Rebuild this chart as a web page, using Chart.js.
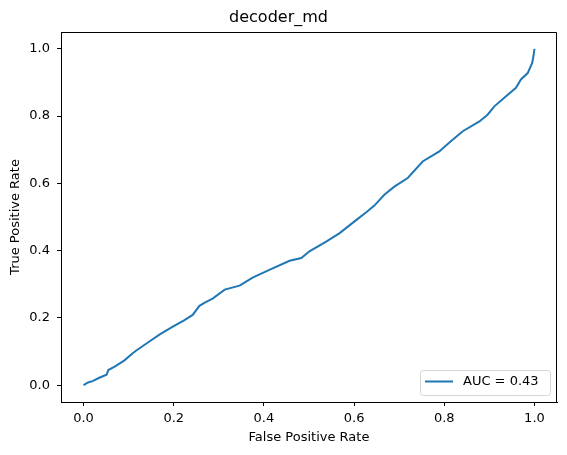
<!DOCTYPE html>
<html>
<head>
<meta charset="utf-8">
<script src="https://cdn.jsdelivr.net/npm/chart.js@4.4.0/dist/chart.umd.min.js"></script>
<style>
  html, body { margin: 0; padding: 0; background: #fff; }
  #wrap { width: 567px; height: 455px; }
</style>
</head>
<body>
<div id="wrap"><canvas id="roc"></canvas></div>
<script>
// ROC curve points
var fpr = [0, 0.01, 0.02, 0.035, 0.051, 0.055, 0.069, 0.09, 0.109, 0.117, 0.146, 0.17, 0.198, 0.222, 0.242, 0.257, 0.268, 0.287, 0.313, 0.346, 0.375, 0.412, 0.457, 0.483, 0.501, 0.538, 0.568, 0.601, 0.627, 0.645, 0.667, 0.69, 0.719, 0.752, 0.789, 0.812, 0.841, 0.878, 0.896, 0.911, 0.937, 0.959, 0.97, 0.985, 0.995, 0.998, 1.0];
var tpr = [0, 0.008, 0.012, 0.022, 0.031, 0.045, 0.055, 0.073, 0.095, 0.103, 0.13, 0.152, 0.174, 0.192, 0.209, 0.236, 0.245, 0.258, 0.284, 0.296, 0.32, 0.343, 0.37, 0.378, 0.398, 0.427, 0.452, 0.487, 0.514, 0.534, 0.566, 0.591, 0.616, 0.665, 0.695, 0.722, 0.755, 0.784, 0.804, 0.829, 0.859, 0.884, 0.909, 0.928, 0.958, 0.98, 1.0];
var tickValues = [0, 0.2, 0.4, 0.6, 0.8, 1.0];
var curveLabel = "AUC = 0.43";

var points = fpr.map(function (x, i) { return { x: x, y: tpr[i] }; });

var font = "DejaVu Sans";

// top/right spines + legend box in lower right
var framePlugin = {
  id: "frame",
  afterDraw: function (chart) {
    var a = chart.chartArea, c = chart.ctx;
    var top = Math.round(a.top) + 0.5, right = Math.round(a.right) - 0.5;
    c.save();
    c.strokeStyle = "#000";
    c.lineWidth = 1;
    c.beginPath();
    c.moveTo(a.left, top);
    c.lineTo(right, top);
    c.lineTo(right, a.bottom);
    c.stroke();

    var ds = chart.data.datasets[0];
    var bx = a.right - 137, by = a.bottom - 32, bw = 130, bh = 25;
    c.beginPath();
    c.roundRect(bx + 0.5, by + 0.5, bw, bh, 3);
    c.fillStyle = "rgba(255,255,255,0.8)";
    c.fill();
    c.strokeStyle = "#d6d6d6";
    c.stroke();
    c.beginPath();
    c.moveTo(bx + 5, by + 11.5);
    c.lineTo(bx + 33, by + 11.5);
    c.strokeStyle = ds.borderColor;
    c.lineWidth = 2;
    c.stroke();
    c.fillStyle = "#000";
    c.font = "13px '" + font + "'";
    c.textBaseline = "middle";
    c.fillText(ds.label, bx + 43, by + 12);
    c.restore();
  }
};

var ctx = document.getElementById("roc").getContext("2d");

new Chart(ctx, {
  type: "scatter",
  data: {
    datasets: [{
      label: curveLabel,
      data: points,
      showLine: true,
      borderColor: "#1f77b4",
      borderWidth: 2,
      pointRadius: 0,
      tension: 0,
      fill: false
    }]
  },
  options: {
    responsive: true,
    maintainAspectRatio: false,
    animation: false,
    layout: { padding: { top: 0, right: 10, bottom: 0, left: 0 } },
    plugins: {
      legend: { display: false },
      tooltip: { enabled: false },
      title: {
        display: true,
        text: "decoder_md",
        color: "#000",
        font: { family: font, size: 16, weight: "normal" },
        padding: { top: 8, bottom: 4.8 }
      }
    },
    scales: {
      x: {
        type: "linear",
        min: -0.05,
        max: 1.05,
        afterBuildTicks: function (scale) {
          scale.ticks = tickValues.map(function (v) { return { value: v }; });
        },
        afterFit: function (scale) { scale.height = 53; },
        grid: { display: true, drawOnChartArea: false, drawTicks: true, tickLength: 4, color: "#000" },
        border: { display: true, color: "#000", width: 1 },
        ticks: {
          color: "#000",
          padding: 5,
          maxRotation: 0,
          font: { family: font, size: 13 },
          callback: function (v) { return v.toFixed(1); }
        },
        title: {
          display: true,
          text: "False Positive Rate",
          color: "#000",
          font: { family: font, size: 13 },
          padding: { top: 0, bottom: 10 }
        }
      },
      y: {
        type: "linear",
        min: -0.05,
        max: 1.05,
        afterBuildTicks: function (scale) {
          scale.ticks = tickValues.map(function (v) { return { value: v }; });
        },
        afterFit: function (scale) { scale.width = 61; },
        grid: { display: true, drawOnChartArea: false, drawTicks: true, tickLength: 4, color: "#000" },
        border: { display: true, color: "#000", width: 1 },
        ticks: {
          color: "#000",
          padding: 7,
          font: { family: font, size: 13 },
          callback: function (v) { return v.toFixed(1); }
        },
        title: {
          display: true,
          text: "True Positive Rate",
          color: "#000",
          font: { family: font, size: 13 },
          padding: { top: 8, bottom: 0 }
        }
      }
    }
  },
  plugins: [framePlugin]
});
</script>
</body>
</html>
